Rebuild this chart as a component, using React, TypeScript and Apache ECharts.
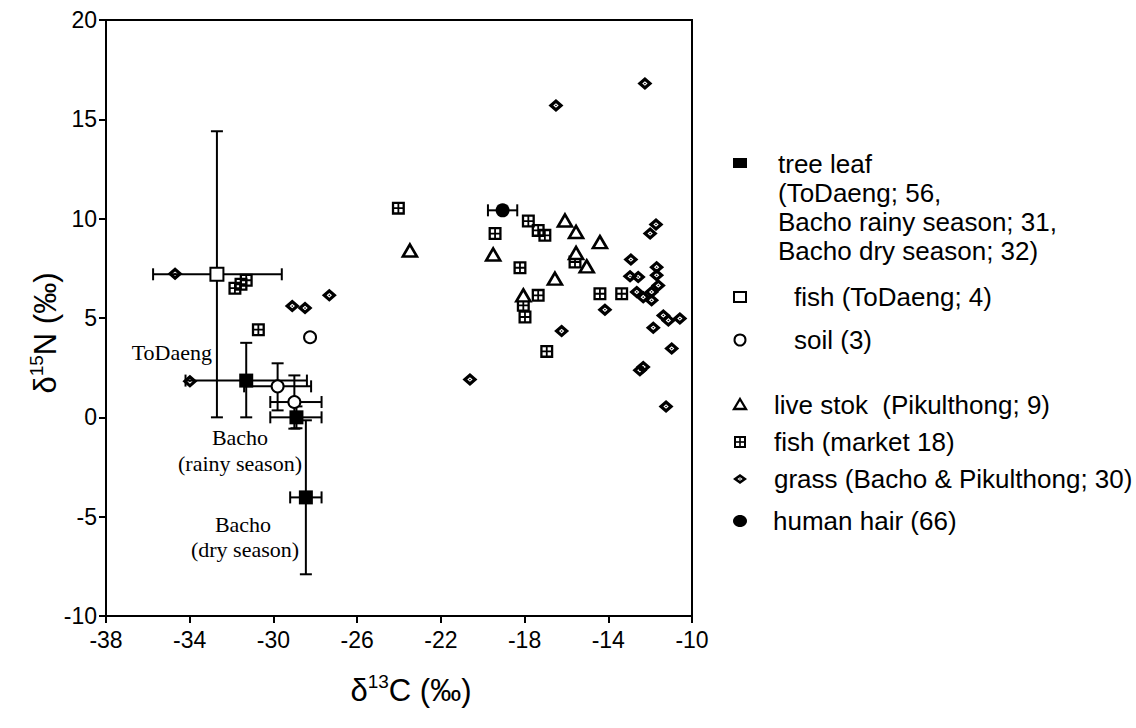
import React, { useEffect, useRef } from 'react';
import * as echarts from 'echarts';

// ---- axis ticks ----
const xTicks = [-38, -34, -30, -26, -22, -18, -14, -10];
const yTicks = [-10, -5, 0, 5, 10, 15, 20];

// ---- tree leaf (ToDaeng, Bacho rainy season, Bacho dry season) ----
const treeLeafX = [-31.3, -28.9, -28.45];
const treeLeafY = [1.85, 0.0, -4.03];
const treeLeafXLow = [-34.2, -30.15, -29.2];
const treeLeafXHigh = [-28.4, -27.7, -27.7];
const treeLeafYLow = [0.0, -0.55, -7.9];
const treeLeafYHigh = [3.75, 0.55, -0.15];

// ---- fish (ToDaeng) ----
const fishToDaengX = [-32.7];
const fishToDaengY = [7.2];
const fishToDaengXLow = [-35.75];
const fishToDaengXHigh = [-29.6];
const fishToDaengYLow = [0.0];
const fishToDaengYHigh = [14.4];

// ---- soil ----
const soilX = [-29.8, -29.0, -28.25];
const soilY = [1.56, 0.77, 4.03];
const soilXLow = [-31.4, -30.15, -28.25];
const soilXHigh = [-28.2, -27.7, -28.25];
const soilYLow = [0.35, -0.57, 4.03];
const soilYHigh = [2.72, 2.11, 4.03];

// ---- live stock (Pikulthong) ----
const liveX = [-23.48, -19.5, -18.06, -16.07, -15.54, -14.4, -15.54, -15.03, -16.55];
const liveY = [8.4, 8.2, 6.14, 9.91, 9.33, 8.82, 8.27, 7.6, 6.98];

// ---- fish (market) ----
const fishMarketX = [-31.84, -31.55, -31.3, -30.72, -24.03, -19.41, -17.82, -17.35, -17.03, -18.22, -18.06, -17.98, -17.35, -15.59, -14.4, -13.36, -16.94];
const fishMarketY = [6.5, 6.7, 6.9, 4.41, 10.53, 9.25, 9.88, 9.41, 9.16, 7.53, 5.64, 5.05, 6.14, 7.82, 6.22, 6.22, 3.32];

// ---- grass (Bacho & Pikulthong) ----
const grassX = [-34.7, -33.99, -29.1, -28.49, -27.33, -20.61, -16.5, -12.25, -11.72, -12.0, -12.92, -12.96, -12.57, -11.69, -11.69, -11.61, -12.64, -12.33, -11.93, -11.93, -14.16, -16.23, -11.37, -11.13, -10.58, -11.85, -10.97, -12.33, -12.49, -11.24];
const grassY = [7.23, 1.81, 5.6, 5.5, 6.14, 1.9, 15.7, 16.8, 9.71, 9.25, 7.94, 7.1, 7.06, 7.56, 7.15, 6.64, 6.31, 6.05, 6.31, 5.89, 5.42, 4.34, 5.13, 4.88, 4.97, 4.51, 3.46, 2.53, 2.37, 0.55];

// ---- human hair ----
const hairX = [-19.05];
const hairY = [10.42];
const hairXLow = [-19.75];
const hairXHigh = [-18.35];

const zip = (xs: number[], ys: number[]) => xs.map((x, i) => [x, ys[i]]);
const errRows = (xs: number[], ys: number[], xl: number[], xh: number[], yl: number[], yh: number[]) =>
  xs.map((x, i) => [x, ys[i], xl[i], xh[i], yl[i], yh[i]]);

const GRID_PATH =
  'path://M0 0H13V13H0Z M2.3 2.3V5.6H5.6V2.3Z M7.4 2.3V5.6H10.7V2.3Z M2.3 7.4V10.7H5.6V7.4Z M7.4 7.4V10.7H10.7V7.4Z';
const GRASS_PATH =
  'path://M7 0L14 6L7 12L0 6Z M7 3.9L4.5 6L7 8.1L9.5 6Z M7 5.2L8 6L7 6.8L6 6Z';

const SANS = '"Liberation Sans", Arial, Helvetica, sans-serif';
const SERIF = '"Liberation Serif", "Times New Roman", serif';

export default function App() {
  const ref = useRef<HTMLDivElement>(null);

  useEffect(() => {
    if (!ref.current) return;
    const chart = echarts.init(ref.current, undefined, { renderer: 'svg' });

    const errData = [
      ...errRows(treeLeafX, treeLeafY, treeLeafXLow, treeLeafXHigh, treeLeafYLow, treeLeafYHigh),
      ...errRows(fishToDaengX, fishToDaengY, fishToDaengXLow, fishToDaengXHigh, fishToDaengYLow, fishToDaengYHigh),
      ...errRows(soilX, soilY, soilXLow, soilXHigh, soilYLow, soilYHigh),
      ...errRows(hairX, hairY, hairXLow, hairXHigh, hairY, hairY),
    ];

    const CAP = 6;
    const renderErr = (params: any, api: any) => {
      const x = api.value(0), y = api.value(1);
      const xl = api.value(2), xh = api.value(3), yl = api.value(4), yh = api.value(5);
      const c = api.coord([x, y]);
      const style = { stroke: '#000', lineWidth: 2, fill: null };
      const kids: any[] = [];
      const line = (x1: number, y1: number, x2: number, y2: number) =>
        kids.push({ type: 'line', shape: { x1, y1, x2, y2 }, style });
      if (xl !== x) { const p = api.coord([xl, y]); line(p[0], c[1], c[0], c[1]); line(p[0], c[1] - CAP, p[0], c[1] + CAP); }
      if (xh !== x) { const p = api.coord([xh, y]); line(c[0], c[1], p[0], c[1]); line(p[0], c[1] - CAP, p[0], c[1] + CAP); }
      if (yl !== y) { const p = api.coord([x, yl]); line(c[0], c[1], c[0], p[1]); line(c[0] - CAP, p[1], c[0] + CAP, p[1]); }
      if (yh !== y) { const p = api.coord([x, yh]); line(c[0], p[1], c[0], c[1]); line(c[0] - CAP, p[1], c[0] + CAP, p[1]); }
      return { type: 'group', children: kids };
    };

    const solid = { color: '#000', opacity: 1 };
    const openStyle = { color: '#fff', borderColor: '#000', borderWidth: 2, opacity: 1 };

    const txt = (text: string, x: number, y: number, font: string, align = 'left', vAlign = 'middle', extra: any = {}) => ({
      type: 'text',
      silent: true,
      style: { text, x, y, font, fill: '#000', textAlign: align, textVerticalAlign: vAlign, ...extra },
    });

    const LF = `26px ${SANS}`;
    const AF = `22px ${SERIF}`;
    const nameRich = {
      n: { fontSize: 31, fontFamily: SANS, lineHeight: 36 },
      s: { fontSize: 19, fontFamily: SANS, verticalAlign: 'top', lineHeight: 22 },
    };

    chart.setOption({
      animation: false,
      backgroundColor: '#fff',
      grid: { left: 106, top: 20, width: 586, height: 596, show: true, borderColor: '#000', borderWidth: 2, backgroundColor: 'transparent' },
      xAxis: {
        type: 'value', min: -38, max: -10, interval: 4,
        axisLine: { onZero: false, lineStyle: { color: '#000', width: 2 } },
        axisTick: { show: true, inside: false, length: 7, lineStyle: { color: '#000', width: 2 }, customValues: xTicks },
        axisLabel: { color: '#000', fontSize: 23, fontFamily: SANS, margin: 12, customValues: xTicks },
        splitLine: { show: false },
      },
      yAxis: {
        type: 'value', min: -10, max: 20, interval: 5,
        axisLine: { onZero: false, lineStyle: { color: '#000', width: 2 } },
        axisTick: { show: true, inside: false, length: 7, lineStyle: { color: '#000', width: 2 }, customValues: yTicks },
        axisLabel: { color: '#000', fontSize: 23, fontFamily: SANS, margin: 9, customValues: yTicks },
        splitLine: { show: false },
      },
      series: [
        { type: 'custom', name: 'error bars', renderItem: renderErr, data: errData, encode: { x: 0, y: 1 }, z: 1, silent: true },
        { type: 'scatter', name: 'fish (market 18)', data: zip(fishMarketX, fishMarketY), symbol: GRID_PATH, symbolSize: 13, itemStyle: solid, z: 2, silent: true },
        { type: 'scatter', name: 'live stok (Pikulthong; 9)', data: zip(liveX, liveY), symbol: 'triangle', symbolSize: [14, 12], itemStyle: { ...openStyle, borderWidth: 2.6 }, z: 3, silent: true },
        { type: 'scatter', name: 'grass (Bacho & Pikulthong; 30)', data: zip(grassX, grassY), symbol: GRASS_PATH, symbolSize: [15, 13], itemStyle: solid, z: 4, silent: true },
        { type: 'scatter', name: 'soil (3)', data: zip(soilX, soilY), symbol: 'circle', symbolSize: 12, itemStyle: openStyle, z: 5, silent: true },
        { type: 'scatter', name: 'fish (ToDaeng; 4)', data: zip(fishToDaengX, fishToDaengY), symbol: 'rect', symbolSize: 13, itemStyle: openStyle, z: 5, silent: true },
        { type: 'scatter', name: 'tree leaf', data: zip(treeLeafX, treeLeafY), symbol: 'rect', symbolSize: 14, itemStyle: solid, z: 6, silent: true },
        { type: 'scatter', name: 'human hair (66)', data: zip(hairX, hairY), symbol: 'circle', symbolSize: 14, itemStyle: solid, z: 6, silent: true },
      ],
      graphic: [
        // axis names
        {
          type: 'text', silent: true,
          style: { text: '{n|δ}{s|13}{n|C (‰)}', x: 411, y: 690, textAlign: 'center', textVerticalAlign: 'middle', fill: '#000', rich: nameRich },
        },
        {
          type: 'text', silent: true, x: 45, y: 333, rotation: Math.PI / 2,
          style: { text: '{n|δ}{s|15}{n|N (‰)}', x: 0, y: 0, textAlign: 'center', textVerticalAlign: 'middle', fill: '#000', rich: nameRich },
        },
        // annotations
        txt('ToDaeng', 212, 352, AF, 'right'),
        txt('Bacho', 240, 437, AF, 'center'),
        txt('(rainy season)', 240, 463, AF, 'center'),
        txt('Bacho', 243, 524, AF, 'center'),
        txt('(dry season)', 245, 549, AF, 'center'),
        // legend markers
        { type: 'rect', silent: true, shape: { x: 733, y: 158, width: 14, height: 10 }, style: { fill: '#000' } },
        { type: 'rect', silent: true, shape: { x: 734, y: 292, width: 12, height: 10 }, style: { fill: '#fff', stroke: '#000', lineWidth: 2 } },
        { type: 'circle', silent: true, shape: { cx: 740, cy: 340, r: 5.5 }, style: { fill: '#fff', stroke: '#000', lineWidth: 2 } },
        { type: 'polygon', silent: true, shape: { points: [[740, 399], [746, 409], [734, 409]] }, style: { fill: '#fff', stroke: '#000', lineWidth: 2.3 } },
        {
          type: 'group', silent: true, x: 734, y: 436,
          children: [
            { type: 'rect', shape: { x: 0, y: 0, width: 12, height: 12 }, style: { fill: '#000' } },
            { type: 'rect', shape: { x: 2, y: 2, width: 3.2, height: 3.2 }, style: { fill: '#fff' } },
            { type: 'rect', shape: { x: 6.8, y: 2, width: 3.2, height: 3.2 }, style: { fill: '#fff' } },
            { type: 'rect', shape: { x: 2, y: 6.8, width: 3.2, height: 3.2 }, style: { fill: '#fff' } },
            { type: 'rect', shape: { x: 6.8, y: 6.8, width: 3.2, height: 3.2 }, style: { fill: '#fff' } },
          ],
        },
        {
          type: 'group', silent: true, x: 733, y: 474,
          children: [
            { type: 'polygon', shape: { points: [[7, 0], [14, 5], [7, 10], [0, 5]] }, style: { fill: '#000' } },
            { type: 'polygon', shape: { points: [[7, 3.2], [4.4, 5], [7, 6.8], [9.6, 5]] }, style: { fill: '#fff' } },
            { type: 'polygon', shape: { points: [[7, 4.3], [8, 5], [7, 5.7], [6, 5]] }, style: { fill: '#000' } },
          ],
        },
        { type: 'ellipse', silent: true, shape: { cx: 740, cy: 521, rx: 7, ry: 6 }, style: { fill: '#000' } },
        // legend texts
        txt('tree leaf\n(ToDaeng; 56,\nBacho rainy season; 31,\nBacho dry season; 32)', 778, 149, LF, 'left', 'top', { lineHeight: 29 }),
        txt('fish (ToDaeng; 4)', 794, 297, LF),
        txt('soil (3)', 794, 340, LF),
        txt('live stok  (Pikulthong; 9)', 774, 405, LF),
        txt('fish (market 18)', 774, 442, LF),
        txt('grass (Bacho & Pikulthong; 30)', 774, 479, LF),
        txt('human hair (66)', 773, 521, LF),
      ],
    });

    return () => chart.dispose();
  }, []);

  return (
    <div
      ref={ref}
      style={{ position: 'fixed', left: 0, top: 0, width: 1136, height: 728, background: '#fff' }}
    />
  );
}
